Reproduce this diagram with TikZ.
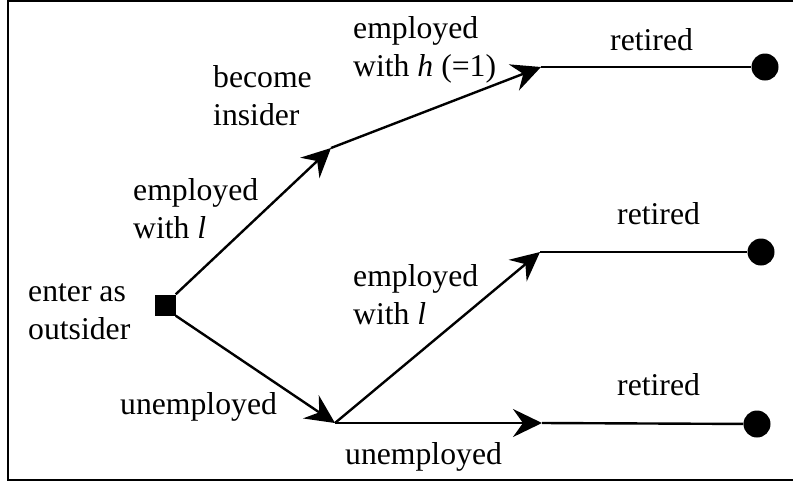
\documentclass[tikz,border=0pt]{standalone}
\usepackage{fontspec}
\setmainfont{Liberation Serif}
\usetikzlibrary{arrows.meta}
\tikzset{
  conn/.style={line width=2.4pt},
  arr/.style={conn, -{Stealth[length=29pt,width=28pt,inset=10pt]}},
  lbl/.style={anchor=west, inner sep=0pt, align=left, font=\fontsize{31.7}{38}\selectfont},
  endpt/.style={circle, fill=black, inner sep=0pt, minimum size=27pt},
  startsq/.style={rectangle, fill=black, inner sep=0pt, minimum size=21pt}
}
\begin{document}
\begin{tikzpicture}[x=1pt,y=-1pt]
\useasboundingbox (0,0) rectangle (793,483);
\clip (0,0) rectangle (793,483);
\draw[line width=2.7pt] (800,0.5) -- (8,0.5) -- (8,480) -- (800,480);
% junctions
\coordinate (a) at (331,148);
\coordinate (b) at (335,423);
\coordinate (c) at (541,67);
\coordinate (d) at (540,252);
\coordinate (e) at (542,423);
% nodes
\node[startsq] (s) at (165,305) {};
\node[endpt] (f1) at (765,67) {};
\node[endpt] (f2) at (761,252) {};
\node[endpt] (f3) at (757,424) {};
% connectors
\draw[arr] (s.north east) -- (a);
\draw[arr] (a) -- (c);
\draw[conn] (c) -- (f1);
\draw[arr] (s.south east) -- (b);
\draw[arr] (b) -- (d);
\draw[conn] (d) -- (f2);
\draw[arr] (b) -- (e);
\draw[conn] (e) -- (f3);
% labels
\node[lbl] (t1) at (353,50) {employed\\with \textit{h} (=1)};
\node[lbl] (t2) at (213,96) {become\\insider};
\node[lbl] (t3) at (133,209) {employed\\with \textit{l}};
\node[lbl] (t4) at (28,312) {enter as\\outsider};
\node[lbl] (t5) at (120,407) {unemployed};
\node[lbl] (t6) at (353,295) {employed\\with \textit{l}};
\node[lbl] (t7) at (345,457) {unemployed};
\node[lbl] (t8) at (610,40) {retired};
\node[lbl] (t9) at (617,214) {retired};
\node[lbl] (t10) at (617,385) {retired};
\end{tikzpicture}
\end{document}
